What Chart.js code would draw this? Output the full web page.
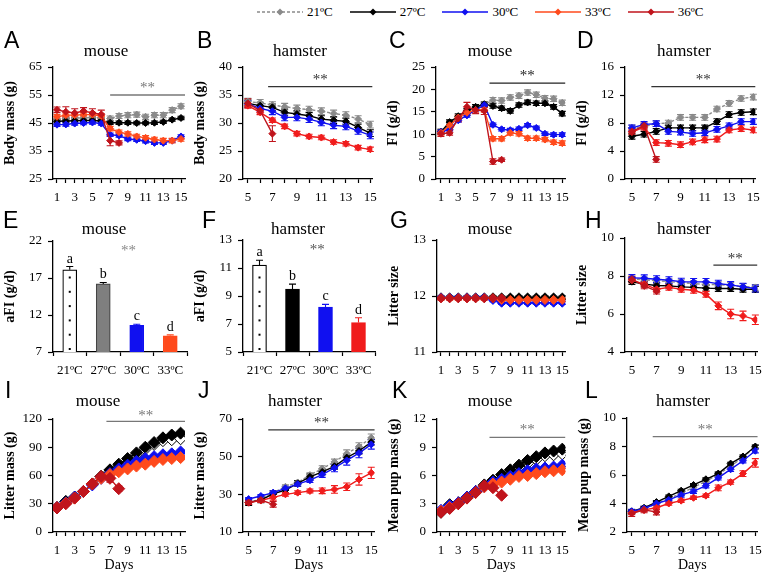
<!DOCTYPE html>
<html>
<head>
<meta charset="utf-8">
<script src="https://cdn.jsdelivr.net/npm/chart.js@4.4.1/dist/chart.umd.min.js"></script>
<style>
  body { margin: 0; background: #fff; width: 762px; height: 573px; position: relative; overflow: hidden;
         font-family: 'Liberation Serif', 'Times New Roman', serif; }
  canvas { position: absolute; }
  .lt { position: absolute; font-family: 'Liberation Sans', Arial, sans-serif; font-size: 23px; line-height: 1; }
  .tt { position: absolute; font-size: 17px; line-height: 1; white-space: nowrap; transform: translateX(-50%); }
  #legend { position: absolute; left: 257px; top: 4px; display: flex; align-items: center; font-size: 13px; }
  #legend span { margin: 0 17px 0 4px; }
</style>
</head>
<body>
<div id="legend"></div>
<script>
// groups / axes
const temps = ['21ºC', '27ºC', '30ºC', '33ºC', '36ºC'];
const barLabels = ['21ºC', '27ºC', '30ºC', '33ºC'];
const mouseDays = [1, 2, 3, 4, 5, 6, 7, 8, 9, 10, 11, 12, 13, 14, 15];
const hamsterDays = [5, 6, 7, 8, 9, 10, 11, 12, 13, 14, 15];
const mouseColors = ['#8a8a8a', '#000000', '#1010f0', '#ff4a1c', '#c0141c'];
const hamsterColors = ['#8a8a8a', '#000000', '#1010f0', '#f01c1c', '#c0141c'];

// A - mouse body mass
const bmM21 = [46.5, 46.6, 46.8, 46.8, 47, 46.8, 46.6, 47.5, 47.8, 48, 47.2, 47.8, 47.8, 49.6, 51];
const bmM27 = [45.6, 45.7, 45.8, 45.9, 45.9, 45.7, 45.1, 45.1, 45.1, 45, 45, 45.1, 45.4, 46.2, 46.8];
const bmM30 = [44.4, 44.5, 44.8, 45, 45.2, 44.8, 40.8, 40.5, 39.3, 39, 38.5, 37.9, 37.9, 38.7, 40.2];
const bmM33 = [47.2, 47.8, 47.8, 48, 48, 47.5, 43, 41.7, 41.1, 40.2, 39.7, 39.1, 38.7, 38.7, 39.3];
const bmM36 = [49.7, 49, 48.6, 49.3, 48.6, 48.1, 38.7, 37.9];
const bmM36Err = [1, 1.8, 1.5, 1.2, 1.5, 1.5, 1.8, 0.7];
// B - hamster body mass
const bmH21 = [33.8, 33.6, 33.2, 32.9, 32.6, 32.4, 32.1, 31.7, 31.4, 30.7, 29.7];
const bmH27 = [33.5, 33.1, 32.8, 31.9, 31.6, 31.3, 30.7, 30.5, 30.3, 29.2, 28.2];
const bmH30 = [33.4, 32.6, 32.1, 31.0, 31.0, 30.7, 30.1, 29.6, 29.4, 28.6, 27.8];
const bmH33 = [33.1, 31.9, 30.5, 29.4, 28.1, 27.6, 27.4, 26.6, 26.3, 25.6, 25.3];
const bmH36 = [33.5, 32.2, 28.1];
const bmH36Err = [0.8, 0.6, 1.4];
// C - mouse food intake
const fiM21 = [10.6, 12.5, 14, 15, 16, 16.6, 17.6, 17.5, 18.2, 18.6, 19.3, 18.8, 18, 17.9, 17];
const fiM27 = [10.5, 12.7, 14, 15.2, 16.1, 16.7, 16.3, 15.8, 15.2, 16.5, 17.1, 16.9, 16.9, 16.1, 14.6];
const fiM30 = [10.5, 11.1, 13.1, 14.2, 15.4, 16.5, 12.1, 11.1, 10.9, 11.2, 12, 11.4, 10.1, 9.9, 9.9];
const fiM33 = [10.3, 12, 13.7, 14.8, 15.4, 15.4, 9, 9, 10.3, 10.1, 9.1, 9.1, 8.8, 8.2, 8];
const fiM36 = [10.1, 10.3, 13.5, 16.1, 15.4, 15.2, 3.9, 4.3];
const fiM36Err = [0.6, 0.5, 0.7, 1, 0.8, 0.8, 0.6, 0.4];
// D - hamster food intake
const fiH21 = [7.3, 7.5, 7.9, 8, 8.8, 8.8, 8.8, 10, 10.8, 11.5, 11.7];
const fiH27 = [6.1, 6.4, 6.8, 7.3, 7.3, 7.3, 7.3, 8.2, 9.2, 9.5, 9.6];
const fiH30 = [7.3, 7.8, 7.9, 6.8, 6.7, 6.5, 6.6, 7.1, 7.6, 8.2, 8.2];
const fiH33 = [6.7, 7.4, 5.2, 5.1, 4.9, 5.3, 5.6, 5.7, 7, 7.2, 7];
const fiH36 = [6.8, 7.6, 2.8];
// E, F - average food intake
const afiM = [18.1, 16.2, 10.6, 9.2];
const afiMErr = [0.45, 0.2, 0.15, 0.12];
const afiH = [11.2, 9.5, 8.2, 7.1];
const afiHErr = [0.35, 0.35, 0.2, 0.35];
const sigLetters = ['a', 'b', 'c', 'd'];
// G - mouse litter size
const lsM21 = [11.98, 11.98, 11.98, 11.98, 11.98, 11.98, 11.98, 11.98, 11.98, 11.98, 11.98, 11.98, 11.98, 11.98, 11.98];
const lsM27 = [11.97, 11.97, 11.97, 11.97, 11.97, 11.97, 11.97, 11.97, 11.97, 11.97, 11.97, 11.97, 11.97, 11.97, 11.97];
const lsM30 = [11.97, 11.97, 11.97, 11.97, 11.97, 11.97, 11.93, 11.88, 11.88, 11.88, 11.88, 11.88, 11.88, 11.88, 11.88];
const lsM33 = [11.96, 11.96, 11.96, 11.96, 11.96, 11.96, 11.96, 11.93, 11.93, 11.93, 11.93, 11.93, 11.93, 11.93, 11.93];
const lsM36 = [11.96, 11.96, 11.96, 11.96, 11.96, 11.96, 11.96, 11.96];
// H - hamster litter size
const lsH21 = [7.85, 7.8, 7.75, 7.7, 7.65, 7.6, 7.55, 7.55, 7.5, 7.45, 7.4];
const lsH27 = [7.7, 7.57, 7.5, 7.48, 7.43, 7.4, 7.36, 7.34, 7.34, 7.3, 7.3];
const lsH30 = [7.9, 7.88, 7.83, 7.78, 7.7, 7.69, 7.69, 7.6, 7.53, 7.43, 7.34];
const lsH33 = [7.78, 7.57, 7.3, 7.4, 7.3, 7.25, 7.04, 6.43, 6.0, 5.9, 5.7];
const lsH36 = [7.83, 7.48, 7.2];
const lsH33Err = [0.15, 0.15, 0.15, 0.15, 0.15, 0.15, 0.15, 0.2, 0.25, 0.25, 0.25];
// I - mouse litter mass
const lmM21 = [26, 32, 37, 43, 51, 59, 64, 70, 76, 82, 88, 93, 97, 98, 99];
const lmM27 = [26, 32.5, 37, 43, 51, 59, 66, 72, 78, 84, 90, 95, 100, 103, 105];
const lmM30 = [26, 31, 37, 43, 50, 57, 62, 67, 71, 75, 78, 80, 82, 83, 85];
const lmM33 = [26, 30.5, 36, 43, 51, 57, 61, 64, 67, 70, 72, 75, 77, 78, 79];
const lmM36 = [25.5, 30, 36, 43, 51, 59, 57, 46];
const lmM36Err = [1, 1, 1, 1, 2, 2, 4, 3];
// J - hamster litter mass
const lmH21 = [25.8, 27.4, 30.9, 34, 36.3, 40.2, 43.7, 47.2, 51.6, 55.4, 60];
const lmH27 = [25.6, 27, 30.2, 32.3, 35.8, 39.3, 41.9, 44.9, 49.5, 53, 57.7];
const lmH30 = [27.5, 29.1, 30.9, 33.2, 35.4, 37.5, 40.5, 44, 48, 51.9, 56.5];
const lmH33 = [25.6, 26.7, 28.4, 30, 30.9, 31.8, 31.9, 32.6, 34, 37.9, 41.4];
const lmH36 = [25.6, 27, 24.7];
const lmH21Err = [0.8, 0.8, 1, 1, 1, 1.2, 1.5, 1.5, 2, 2, 2];
const lmH30Err = [0.8, 0.8, 1, 1, 1, 1.2, 1.5, 2, 2.5, 2.5, 2.5];
const lmH33Err = [1, 1, 1.5, 1, 1, 1, 1.5, 2, 2, 3, 3];
const lmH36Err = [1, 1, 1.5];
// K - mouse mean pup mass
const pmM21 = [2.2, 2.8, 3.1, 3.7, 4.3, 4.9, 5.4, 5.9, 6.4, 6.9, 7.3, 7.7, 8.1, 8.2, 8.3];
const pmM27 = [2.1, 2.9, 3.1, 3.7, 4.3, 5, 5.5, 6.1, 6.6, 7.1, 7.6, 8, 8.4, 8.6, 8.8];
const pmM30 = [2.3, 2.8, 3.1, 3.7, 4.3, 4.8, 5.3, 5.6, 5.9, 6.2, 6.5, 6.7, 6.8, 6.9, 7.1];
const pmM33 = [2.2, 2.6, 3, 3.6, 4.2, 4.8, 5.1, 5.3, 5.6, 5.9, 6, 6.2, 6.4, 6.5, 6.6];
const pmM36 = [2.1, 2.5, 3, 3.6, 4.2, 4.9, 4.7, 3.9];
// L - hamster mean pup mass
const pmH21 = [3.4, 3.6, 4, 4.35, 4.7, 5.15, 5.55, 6.05, 6.6, 7.25, 7.95];
const pmH27 = [3.45, 3.7, 4.1, 4.5, 4.9, 5.3, 5.7, 6.1, 6.8, 7.3, 8];
const pmH30 = [3.45, 3.65, 4, 4.25, 4.6, 4.85, 5.25, 5.8, 6.4, 7, 7.7];
const pmH33 = [3.35, 3.55, 3.7, 4, 4.2, 4.4, 4.55, 5.1, 5.5, 6.1, 6.85];
const pmH36 = [3.3, 3.55, 3.4];
const pmH33Err = [0.12, 0.12, 0.15, 0.12, 0.12, 0.12, 0.12, 0.2, 0.15, 0.2, 0.3];

Chart.defaults.font.family = "'Liberation Serif', 'Times New Roman', serif";
Chart.defaults.font.size = 13;
Chart.defaults.color = '#000';
Chart.defaults.animation = false;
Chart.defaults.events = [];
Chart.defaults.plugins.legend.display = false;
Chart.defaults.plugins.tooltip.enabled = false;

// error bars, drawn through the y scale
function drawErr(chart, upOnly) {
  const ctx = chart.ctx, ys = chart.scales.y;
  chart.data.datasets.forEach((ds, i) => {
    if (ds.err == null) return;
    chart.getDatasetMeta(i).data.forEach((el, j) => {
      const d = ds.data[j];
      const v = typeof d === 'object' ? d.y : d;
      const e = Array.isArray(ds.err) ? ds.err[j] : ds.err;
      const top = ys.getPixelForValue(v + e);
      const bot = upOnly ? el.y : ys.getPixelForValue(v - e);
      ctx.save();
      ctx.strokeStyle = Array.isArray(ds.errColor) ? ds.errColor[j] : (ds.errColor || ds.borderColor);
      ctx.lineWidth = 1.1;
      ctx.beginPath();
      ctx.moveTo(el.x, top); ctx.lineTo(el.x, bot);
      ctx.moveTo(el.x - 3.5, top); ctx.lineTo(el.x + 3.5, top);
      if (!upOnly) { ctx.moveTo(el.x - 3.5, bot); ctx.lineTo(el.x + 3.5, bot); }
      ctx.stroke();
      ctx.restore();
    });
  });
}
const errorBars = {
  id: 'errorBars',
  beforeDatasetsDraw(chart) { if (chart.config.type === 'line') drawErr(chart, false); },
  afterDatasetsDraw(chart) { if (chart.config.type === 'bar') drawErr(chart, true); }
};

// significance line, stars, letters over bars, dots in the white bar
const decor = {
  id: 'decor',
  afterDraw(chart, args, o) {
    const ctx = chart.ctx, xs = chart.scales.x, ys = chart.scales.y;
    ctx.save();
    ctx.font = "15px 'Liberation Serif'";
    ctx.textAlign = 'center';
    ctx.textBaseline = 'alphabetic';
    if (o.sig) {
      const [x0, yv, sy, col] = o.sig;
      const px0 = xs.getPixelForValue(x0), px1 = xs.right, py = ys.getPixelForValue(yv);
      ctx.strokeStyle = col; ctx.lineWidth = 1.3;
      ctx.beginPath(); ctx.moveTo(px0, py); ctx.lineTo(px1, py); ctx.stroke();
      ctx.fillStyle = col;
      ctx.fillText('**', (px0 + px1) / 2, ys.getPixelForValue(sy) + 7);
    }
    if (o.stars) {
      const [xv, yv, col] = o.stars;
      ctx.fillStyle = col;
      ctx.fillText('**', xs.getPixelForValue(xv), ys.getPixelForValue(yv) + 7);
    }
    if (o.letters) {
      const ds = chart.data.datasets[0];
      ctx.font = "14px 'Liberation Serif'";
      ctx.fillStyle = '#000';
      chart.getDatasetMeta(0).data.forEach((el, j) => {
        ctx.fillText(o.letters[j], el.x, ys.getPixelForValue(ds.data[j] + ds.err[j]) - 4);
      });
    }
    if (o.dots) {
      const el = chart.getDatasetMeta(0).data[0];
      ctx.fillStyle = '#000';
      const start = Math.min(el.base, ys.bottom) - 3;
      for (let yy = start; yy > el.y + 5; yy -= 14.3) ctx.fillRect(el.x - 1, yy - 1, 2, 2);
    }
    ctx.restore();
  }
};

function addCanvas(left, top, w, h) {
  const c = document.createElement('canvas');
  c.width = w; c.height = h;
  c.style.left = left + 'px'; c.style.top = top + 'px';
  c.style.width = w + 'px'; c.style.height = h + 'px';
  document.body.appendChild(c);
  return c;
}

const axisLine = { color: '#000', width: 1.3 };
const tickGrid = (len) => ({ drawOnChartArea: false, tickLength: len, tickColor: '#000', tickWidth: 1.2 });

function yAxis(min, max, step, title) {
  return {
    min: min, max: max,
    ticks: { stepSize: step, padding: 6 },
    grid: tickGrid(5),
    border: axisLine,
    title: { display: true, text: title, font: { size: 14, weight: 'bold' }, padding: { top: 1, bottom: 0 } },
    afterFit: s => { s.width = 52; }
  };
}

function makeLine(p) {
  const xH = p.xtitle ? 42 : 28;
  const w = p.right - p.ax + 52 + 10;
  const h = p.padTop + (p.bottom - p.top) + xH;
  const c = addCanvas(p.ax - 52, p.top - p.padTop, w, h);
  const datasets = p.series.map((vals, i) => {
    const open = p.openFirst && i === 0;
    const col = open ? '#000' : p.colors[i];
    return {
      label: temps[i],
      data: vals.map((v, j) => ({ x: p.days[j], y: v })),
      err: p.errs[i],
      errColor: col,
      borderColor: col,
      backgroundColor: col,
      borderWidth: 1.4,
      borderDash: (i === 0 && !open) ? [3, 2] : [],
      pointStyle: 'rectRot',
      pointRadius: p.r,
      pointBorderWidth: 1,
      pointBorderColor: col,
      pointBackgroundColor: open ? '#fff' : col,
      tension: 0,
      order: 4 - i
    };
  });
  new Chart(c, {
    type: 'line',
    data: { datasets: datasets },
    options: {
      responsive: false,
      devicePixelRatio: 1,
      layout: { padding: { top: p.padTop, right: 10, left: 0, bottom: 0 } },
      scales: {
        x: {
          type: 'linear', min: p.xmin, max: p.xmax,
          afterBuildTicks: s => { s.ticks = p.days.map(v => ({ value: v })); },
          ticks: { autoSkip: false, maxRotation: 0, padding: 7, callback: v => (v % 2 === 1 ? String(v) : '') },
          grid: tickGrid(4),
          border: axisLine,
          title: p.xtitle ? { display: true, text: p.xtitle, font: { size: 14 }, padding: 0 } : { display: false },
          afterFit: s => { s.height = xH; }
        },
        y: yAxis(p.ymin, p.ymax, p.step, p.ytitle)
      },
      plugins: { decor: { sig: p.sig } }
    },
    plugins: [errorBars, decor]
  });
}

function makeBar(p) {
  const w = p.right - p.ax + 52 + 10;
  const h = p.padTop + (p.bottom - p.top) + 28;
  const c = addCanvas(p.ax - 52, p.top - p.padTop, w, h);
  new Chart(c, {
    type: 'bar',
    data: {
      labels: barLabels,
      datasets: [{
        data: p.values,
        err: p.errs,
        errColor: p.errColors,
        backgroundColor: p.fills,
        borderColor: p.borders,
        borderWidth: 1.2,
        borderSkipped: false,
        barThickness: 14
      }]
    },
    options: {
      responsive: false,
      devicePixelRatio: 1,
      layout: { padding: { top: p.padTop, right: 10, left: 0, bottom: 0 } },
      scales: {
        x: {
          offset: true,
          ticks: { padding: 7, autoSkip: false, maxRotation: 0 },
          grid: Object.assign(tickGrid(4), { offset: true }),
          border: axisLine,
          afterFit: s => { s.height = 28; }
        },
        y: yAxis(p.ymin, p.ymax, p.step, p.ytitle)
      },
      plugins: { decor: { stars: p.stars, letters: sigLetters, dots: true } }
    },
    plugins: [errorBars, decor]
  });
}

makeLine({ ax: 53, right: 185, top: 67, bottom: 179, padTop: 40, xmin: 0.55, xmax: 15.45,
  ymin: 25, ymax: 65, step: 10, ytitle: 'Body mass (g)', days: mouseDays, colors: mouseColors, r: 3.5,
  series: [bmM21, bmM27, bmM30, bmM33, bmM36], errs: [0.9, 0.6, 0.6, 0.8, bmM36Err],
  sig: [7, 55, 58.6, '#777'] });
makeLine({ ax: 243, right: 374, top: 67, bottom: 179, padTop: 40, xmin: 4.6, xmax: 15.16,
  ymin: 20, ymax: 40, step: 5, ytitle: 'Body mass (g)', days: hamsterDays, colors: hamsterColors, r: 3.5,
  series: [bmH21, bmH27, bmH30, bmH33, bmH36], errs: [0.6, 0.6, 0.6, 0.4, bmH36Err],
  sig: [6.65, 36.5, 38.2, '#333'] });
makeLine({ ax: 436, right: 566, top: 67, bottom: 179, padTop: 40, xmin: 0.43, xmax: 15.34,
  ymin: 0, ymax: 25, step: 5, ytitle: 'FI (g/d)', days: mouseDays, colors: mouseColors, r: 3.5,
  series: [fiM21, fiM27, fiM30, fiM33, fiM36], errs: [0.6, 0.5, 0.4, 0.5, fiM36Err],
  sig: [6.6, 21.4, 23.6, '#222'] });
makeLine({ ax: 625, right: 757, top: 67, bottom: 179, padTop: 40, xmin: 4.43, xmax: 15.16,
  ymin: 0, ymax: 16, step: 4, ytitle: 'FI (g/d)', days: hamsterDays, colors: hamsterColors, r: 3.5,
  series: [fiH21, fiH27, fiH30, fiH33, fiH36], errs: [0.4, 0.4, 0.4, 0.4, 0.4],
  sig: [6.6, 13.2, 14.6, '#333'] });

makeBar({ ax: 53, right: 187, top: 241, bottom: 352, padTop: 31, ymin: 7, ymax: 22, step: 5,
  ytitle: 'aFI (g/d)', values: afiM, errs: afiMErr,
  fills: ['#ffffff', '#7f7f7f', '#1010f0', '#ff4a1c'], borders: ['#000', '#444', '#1010f0', '#ff4a1c'],
  errColors: ['#000', '#000', '#1010f0', '#ff4a1c'], stars: [1.75, 21.1, '#888'] });
makeBar({ ax: 243, right: 375, top: 240, bottom: 352, padTop: 30, ymin: 5, ymax: 13, step: 2,
  ytitle: 'aFI (g/d)', values: afiH, errs: afiHErr,
  fills: ['#ffffff', '#000000', '#1010f0', '#f01c1c'], borders: ['#000', '#000', '#1010f0', '#f01c1c'],
  errColors: ['#000', '#000', '#1010f0', '#f01c1c'], stars: [1.75, 12.5, '#555'] });
makeLine({ ax: 437, right: 566, top: 240, bottom: 352, padTop: 30, xmin: 0.54, xmax: 15.34,
  ymin: 11, ymax: 13, step: 1, ytitle: 'Litter size', days: mouseDays, colors: mouseColors, r: 4.5,
  series: [lsM21, lsM27, lsM30, lsM33, lsM36], errs: [0.03, 0.03, 0.03, 0.03, 0.03] });
makeLine({ ax: 625, right: 759, top: 238, bottom: 352, padTop: 30, xmin: 4.44, xmax: 15.15,
  ymin: 4, ymax: 10, step: 2, ytitle: 'Litter size', days: hamsterDays, colors: hamsterColors, r: 3.5,
  series: [lsH21, lsH27, lsH30, lsH33, lsH36], errs: [0.15, 0.15, 0.18, lsH33Err, 0.15],
  sig: [11.6, 8.57, 9.05, '#333'] });

makeLine({ ax: 53, right: 185, top: 419, bottom: 532, padTop: 40, xmin: 0.55, xmax: 15.5, xtitle: 'Days',
  ymin: 0, ymax: 120, step: 30, ytitle: 'Litter mass (g)', days: mouseDays, colors: mouseColors, r: 6,
  openFirst: true, series: [lmM21, lmM27, lmM30, lmM33, lmM36], errs: [1.5, 1.5, 1.5, 1.5, lmM36Err],
  sig: [6.6, 117.5, 126, '#777'] });
makeLine({ ax: 243, right: 375, top: 419, bottom: 532, padTop: 40, xmin: 4.54, xmax: 15.27, xtitle: 'Days',
  ymin: 10, ymax: 70, step: 20, ytitle: 'Litter mass (g)', days: hamsterDays, colors: hamsterColors, r: 3.5,
  series: [lmH21, lmH27, lmH30, lmH33, lmH36], errs: [lmH21Err, 1.5, lmH30Err, lmH33Err, lmH36Err],
  sig: [6.6, 64.2, 69.6, '#333'] });
makeLine({ ax: 437, right: 566, top: 419, bottom: 532, padTop: 40, xmin: 0.54, xmax: 15.34, xtitle: 'Days',
  ymin: 0, ymax: 12, step: 3, ytitle: 'Mean pup mass (g)', days: mouseDays, colors: mouseColors, r: 6,
  openFirst: true, series: [pmM21, pmM27, pmM30, pmM33, pmM36], errs: [0.15, 0.15, 0.15, 0.15, 0.2],
  sig: [6.6, 10.05, 11.1, '#777'] });
makeLine({ ax: 627, right: 759, top: 418, bottom: 532, padTop: 40, xmin: 4.62, xmax: 15.18, xtitle: 'Days',
  ymin: 2, ymax: 10, step: 2, ytitle: 'Mean pup mass (g)', days: hamsterDays, colors: hamsterColors, r: 3.5,
  series: [pmH21, pmH27, pmH30, pmH33, pmH36], errs: [0.15, 0.1, 0.15, pmH33Err, 0.2],
  sig: [6.7, 8.7, 9.4, '#777'] });

// panel letters and titles
const letters = [['A', 4, 40], ['B', 197, 40], ['C', 389, 40], ['D', 577, 40],
                 ['E', 3, 220], ['F', 202, 220], ['G', 390, 220], ['H', 585, 220],
                 ['I', 5, 390], ['J', 198, 390], ['K', 392, 390], ['L', 585, 390]];
letters.forEach(([t, x, y]) => {
  const d = document.createElement('div');
  d.className = 'lt'; d.textContent = t;
  d.style.left = x + 'px'; d.style.top = (y - 11) + 'px';
  document.body.appendChild(d);
});
const titles = [['mouse', 106, 52], ['hamster', 300, 52], ['mouse', 490, 52], ['hamster', 684, 52],
                ['mouse', 104, 230], ['hamster', 298, 230], ['mouse', 490, 230], ['hamster', 684, 230],
                ['mouse', 98, 402], ['hamster', 295, 402], ['mouse', 490, 402], ['hamster', 683, 402]];
titles.forEach(([t, x, y]) => {
  const d = document.createElement('div');
  d.className = 'tt'; d.textContent = t;
  d.style.left = x + 'px'; d.style.top = (y - 10) + 'px';
  document.body.appendChild(d);
});

// legend
const legend = document.getElementById('legend');
temps.forEach((t, i) => {
  const col = mouseColors[i];
  const dash = i === 0 ? ' stroke-dasharray="3 2"' : '';
  legend.insertAdjacentHTML('beforeend',
    '<svg width="46" height="10"><line x1="0" y1="5" x2="46" y2="5" stroke="' + col + '" stroke-width="1.4"' + dash + '/>' +
    '<polygon points="23,1.5 26.5,5 23,8.5 19.5,5" fill="' + col + '"/></svg><span>' + t + '</span>');
});
</script>
</body>
</html>
